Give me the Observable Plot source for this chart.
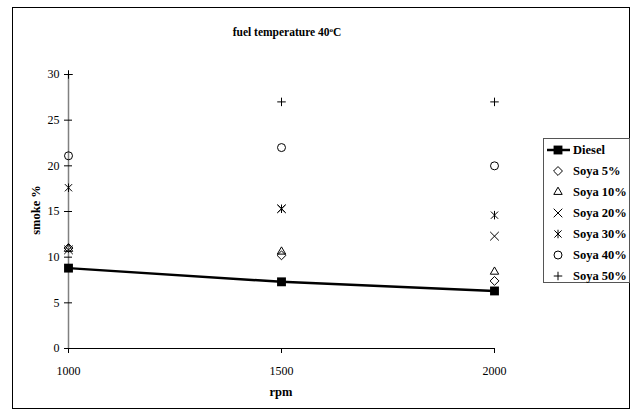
<!DOCTYPE html>
<html>
<head>
<meta charset="utf-8">
<script src="https://cdn.jsdelivr.net/npm/d3@7"></script>
<script src="https://cdn.jsdelivr.net/npm/@observablehq/plot@0.6"></script>
<style>
  html, body { margin: 0; padding: 0; background: white; }
  #wrap { position: relative; width: 640px; height: 414px; font-family: "Liberation Serif", "Times New Roman", serif; color: black; }
  #frame { position: absolute; left: 12px; top: 7px; width: 618px; height: 402px; border: 1px solid black; box-sizing: border-box; pointer-events: none; }
  #title { position: absolute; left: 187px; width: 200px; top: 26px; text-align: center; font-weight: bold; font-size: 11.5px; }
  #title sup { font-size: 7px; vertical-align: 4px; line-height: 0; }
  #ylab { position: absolute; left: 36px; top: 210px; transform: translate(-50%, -50%) rotate(-90deg); font-weight: bold; font-size: 12.5px; white-space: nowrap; }
  #xlab { position: absolute; left: 281px; top: 392px; transform: translate(-50%, -50%); font-weight: bold; font-size: 12.5px; }
  #legend { position: absolute; left: 543px; top: 138px; }
  #chart { position: absolute; left: 0; top: 0; }
</style>
</head>
<body>
<div id="wrap">
  <div id="chart"></div>
  <div id="frame"></div>
  <div id="title">fuel temperature 40<sup>o</sup>C</div>
  <div id="ylab">smoke %</div>
  <div id="xlab">rpm</div>
  <div id="legend"></div>
</div>
<script>
// ---- data ----
const rpm = [1000, 1500, 2000];
const diesel = [8.8, 7.3, 6.3];
const soya5  = [11.0, 10.2, 7.4];
const soya10 = [10.9, 10.6, 8.4];
const soya20 = [10.8, 15.3, 12.3];
const soya30 = [17.6, 15.3, 14.6];
const soya40 = [21.1, 22.0, 20.0];
const soya50 = [30.0, 27.0, 27.0];
const seriesNames = ["Diesel", "Soya 5%", "Soya 10%", "Soya 20%", "Soya 30%", "Soya 40%", "Soya 50%"];
const xTicks = [1000, 1500, 2000];
const yTicks = [0, 5, 10, 15, 20, 25, 30];

// custom asterisk (vertical + X), like Excel's star marker
const asterisk = {
  draw(ctx, size) {
    const r = Math.sqrt(size) * 0.6;
    const d = r * 0.85;
    ctx.moveTo(0, -r); ctx.lineTo(0, r);
    ctx.moveTo(-d, -d); ctx.lineTo(d, d);
    ctx.moveTo(-d, d); ctx.lineTo(d, -d);
  }
};
// smaller plus, like Excel's "+" marker
const smallPlus = {
  draw(ctx, size) {
    const r = Math.sqrt(size) * 0.6;
    ctx.moveTo(0, -r); ctx.lineTo(0, r);
    ctx.moveTo(-r, 0); ctx.lineTo(r, 0);
  }
};
const openNames = seriesNames.slice(1);
const openSymbols = [d3.symbolDiamond2, d3.symbolTriangle2, d3.symbolTimes, asterisk, d3.symbolCircle, smallPlus];
const openValues = [soya5, soya10, soya20, soya30, soya40, soya50];

const dieselRows = rpm.map((r, i) => ({rpm: r, value: diesel[i]}));
const openRows = [];
openNames.forEach((n, k) => rpm.forEach((r, i) => openRows.push({series: n, rpm: r, value: openValues[k][i]})));

const chart = Plot.plot({
  width: 640, height: 414,
  marginLeft: 68, marginRight: 146, marginTop: 74, marginBottom: 66,
  style: {fontFamily: "Liberation Serif, Times New Roman, serif", fontSize: "12px", color: "black", background: "transparent"},
  x: {type: "linear", domain: [1000, 2000]},
  y: {domain: [0, 30]},
  symbol: {domain: openNames, range: openSymbols},
  marks: [
    Plot.ruleX([1000], {stroke: "#808080", strokeWidth: 1.5}),
    Plot.ruleY([0], {stroke: "black"}),
    Plot.axisX({ticks: xTicks, tickSize: 5, tickPadding: 13, tickFormat: d => String(d), label: null, fontSize: 12}),
    Plot.axisY({ticks: yTicks, tickSize: 8, dx: 4, tickPadding: 5, label: null, fontSize: 12}),
    Plot.line(dieselRows, {x: "rpm", y: "value", stroke: "black", strokeWidth: 2.5}),
    Plot.dot(openRows, {x: "rpm", y: "value", symbol: "series", r: 4, stroke: "black", fill: "none", strokeWidth: 1}),
    Plot.dot(dieselRows, {x: "rpm", y: "value", symbol: "square", r: 5, fill: "black", stroke: "none"})
  ]
});
document.getElementById("chart").appendChild(chart);

// ---- legend ----
const lw = 87, lh = 145, rowH = 21;
const lsvg = d3.select("#legend").append("svg").attr("width", lw).attr("height", lh);
lsvg.append("rect").attr("x", 0.5).attr("y", 0.5).attr("width", lw - 1).attr("height", lh - 1)
  .attr("fill", "white").attr("stroke", "#555");
seriesNames.forEach((n, i) => {
  const cy = 12 + i * rowH;
  const g = lsvg.append("g");
  if (i === 0) {
    g.append("line").attr("x1", 4).attr("x2", 27).attr("y1", cy).attr("y2", cy).attr("stroke", "black").attr("stroke-width", 2.5);
    g.append("path").attr("transform", `translate(15,${cy})`).attr("d", d3.symbol(d3.symbolSquare, 5 * 5 * Math.PI)()).attr("fill", "black");
  } else {
    g.append("path").attr("transform", `translate(15,${cy})`).attr("d", d3.symbol(openSymbols[i - 1], 4 * 4 * Math.PI)())
      .attr("fill", "none").attr("stroke", "black");
  }
  g.append("text").attr("x", 30).attr("y", cy).attr("dy", "0.35em")
    .attr("font-family", "Liberation Serif, Times New Roman, serif").attr("font-weight", "bold").attr("font-size", 12.5)
    .text(n);
});
</script>
</body>
</html>
